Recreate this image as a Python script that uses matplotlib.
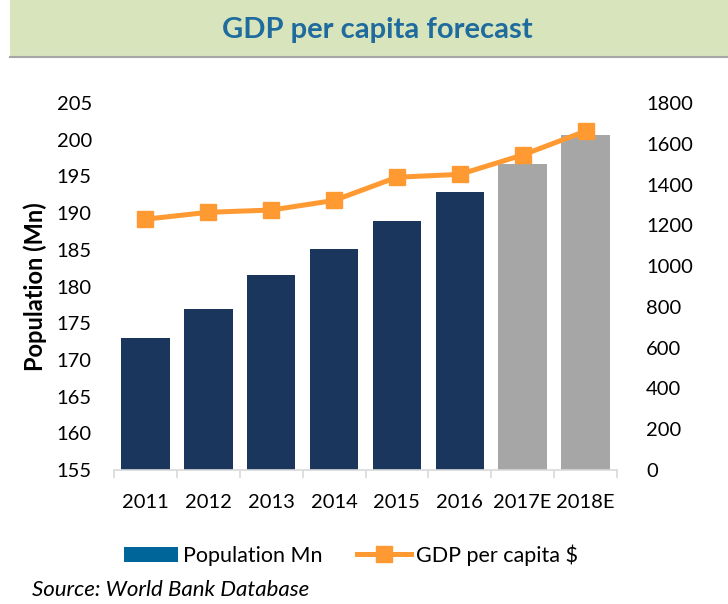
import matplotlib
matplotlib.use("Agg")
import matplotlib.pyplot as plt
from matplotlib.patches import Rectangle
from matplotlib.lines import Line2D
from matplotlib.patches import Patch
import numpy as np

years = ["2011", "2012", "2013", "2014", "2015", "2016", "2017E", "2018E"]
population = [173.0, 177.0, 181.5, 185.1, 188.9, 192.9, 196.7, 200.6]
gdp_per_capita = [1230, 1264, 1275, 1322, 1436, 1450, 1545, 1662]
forecast = [False, False, False, False, False, False, True, True]

plt.rcParams['font.family'] = ['Lato', 'DejaVu Sans']

fig = plt.figure(figsize=(7.28, 6.04), dpi=100)

# title band
fig.patches.append(Rectangle((10/728, 1-56/604), 718/728, 56/604, transform=fig.transFigure,
                             facecolor="#D8E4BC", edgecolor="none", zorder=0))
fig.add_artist(Line2D([10/728, 1], [1-56.5/604, 1-56.5/604], transform=fig.transFigure,
                      color="#A6A6A6", lw=1.5))
fig.text(377/728, 1-30/604, "GDP per capita forecast", ha="center", va="center",
         fontsize=21, fontweight="bold", color="#1F6B9E")

ax = fig.add_axes([114/728, 1-470/604, (617-114)/728, (470-103)/604])
x = np.arange(len(years))
colors = ["#A6A6A6" if f else "#1B365D" for f in forecast]
ax.bar(x, [p - 155 for p in population], bottom=155, width=0.77, color=colors, zorder=2)
ax.set_ylim(155, 205)
ax.set_yticks(np.arange(155, 206, 5))
ax.set_xlim(-0.5, len(years) - 0.5)
ax.set_xticks(x)
ax.set_xticklabels(years)
ax.set_xticks(np.arange(-0.5, len(years), 1), minor=True)
ax.tick_params(axis="x", which="major", length=0, pad=17, labelsize=14.5, colors="#000000")
ax.tick_params(axis="x", which="minor", length=6, width=1.2, color="#D9D9D9", direction="out")
ax.tick_params(axis="y", length=0, pad=16, labelsize=14.5)
for s in ["top", "right", "left"]:
    ax.spines[s].set_visible(False)
ax.spines["bottom"].set_color("#D9D9D9")
ax.spines["bottom"].set_linewidth(1.2)
ax.set_ylabel("Population (Mn)", fontsize=17, fontweight="bold", labelpad=7)

ax2 = ax.twinx()
ax2.plot(x, gdp_per_capita, color="#FF9A33", lw=3.6, marker="s", markersize=11, zorder=3)
ax2.set_ylim(0, 1800)
ax2.set_yticks(np.arange(0, 1801, 200))
ax2.tick_params(axis="y", length=0, pad=21, labelsize=14.5)
for s in ["top", "right", "left", "bottom"]:
    ax2.spines[s].set_visible(False)

handles = [Patch(facecolor="#00669A", edgecolor="none"),
           Line2D([0], [0], color="#FF9A33", lw=3.6, marker="s", markersize=11)]
fig.legend(handles, ["Population Mn", "GDP per capita $"], loc="center",
           bbox_to_anchor=(351/728, 1-555/604), ncol=2, frameon=False, fontsize=15.5,
           handlelength=2.5, handletextpad=0.25, columnspacing=1.6, handleheight=0.7,
           borderpad=0, borderaxespad=0)

fig.text(32/728, 1-590/604, "Source: World Bank Database", ha="left", va="center",
         fontsize=16, style="italic")

fig.savefig("out.png", dpi=100)
